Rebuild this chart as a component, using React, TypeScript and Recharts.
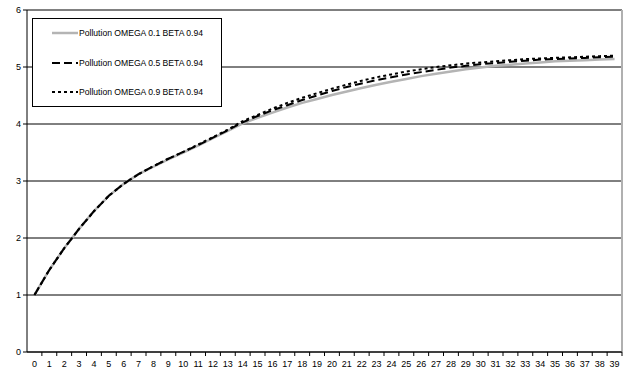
import React from "react";
import {
  LineChart,
  Line,
  XAxis,
  YAxis,
  CartesianGrid,
  ReferenceLine,
} from "recharts";

// periods shown on the x axis
const PERIODS = [
  0, 1, 2, 3, 4, 5, 6, 7, 8, 9, 10, 11, 12, 13, 14, 15, 16, 17, 18, 19,
  20, 21, 22, 23, 24, 25, 26, 27, 28, 29, 30, 31, 32, 33, 34, 35, 36, 37, 38, 39,
];
const Y_TICKS = [0, 1, 2, 3, 4, 5, 6];

const OMEGA_01 = [
  1.0, 1.44, 1.82, 2.16, 2.47, 2.74, 2.95, 3.12, 3.25, 3.38,
  3.5, 3.62, 3.75, 3.88, 4.01, 4.11, 4.2, 4.29, 4.37, 4.44,
  4.51, 4.57, 4.63, 4.69, 4.74, 4.79, 4.84, 4.88, 4.92, 4.96,
  4.99, 5.02, 5.04, 5.06, 5.08, 5.1, 5.11, 5.12, 5.13, 5.14,
];
const OMEGA_05 = [
  1.0, 1.44, 1.82, 2.16, 2.47, 2.74, 2.95, 3.12, 3.26, 3.39,
  3.51, 3.63, 3.76, 3.89, 4.03, 4.14, 4.24, 4.33, 4.42, 4.5,
  4.58, 4.65, 4.71, 4.77, 4.82, 4.87, 4.91, 4.95, 4.99, 5.02,
  5.05, 5.07, 5.09, 5.11, 5.13, 5.14, 5.15, 5.16, 5.17, 5.18,
];
const OMEGA_09 = [
  1.0, 1.44, 1.82, 2.16, 2.47, 2.74, 2.95, 3.12, 3.26, 3.39,
  3.51, 3.64, 3.77, 3.9, 4.05, 4.16, 4.27, 4.37, 4.46, 4.54,
  4.62, 4.69, 4.76, 4.82, 4.87, 4.92, 4.96, 5.0, 5.03, 5.06,
  5.08, 5.1, 5.12, 5.14, 5.15, 5.16, 5.17, 5.18, 5.19, 5.2,
];

const SERIES = [
  { key: "o1", name: "Pollution OMEGA 0.1 BETA 0.94", color: "#b4b4b4", width: 2.5, dash: undefined },
  { key: "o5", name: "Pollution OMEGA 0.5 BETA 0.94", color: "#000000", width: 2, dash: "8 4" },
  { key: "o9", name: "Pollution OMEGA 0.9 BETA 0.94", color: "#000000", width: 2, dash: "3 3" },
];

const data = PERIODS.map((t, i) => ({
  t,
  o1: OMEGA_01[i],
  o5: OMEGA_05[i],
  o9: OMEGA_09[i],
}));

const FONT = "'Liberation Sans', Arial, sans-serif";
const HALF_BAND = 595 / 40 / 2;

function XTick(props: any) {
  const { x, y, payload } = props;
  return (
    <g>
      <line x1={x + HALF_BAND} y1={y} x2={x + HALF_BAND} y2={y + 4} stroke="#000" />
      <text x={x} y={y + 15} textAnchor="middle" fontSize={9} fontFamily={FONT} fill="#000">
        {payload.value}
      </text>
    </g>
  );
}

function LegendBox() {
  return (
    <div
      style={{
        position: "absolute",
        left: 32,
        top: 18,
        width: 190,
        height: 89,
        border: "1px solid #000",
        background: "#fff",
        fontFamily: FONT,
        fontSize: 8.6,
        boxSizing: "border-box",
      }}
    >
      {SERIES.map((s, i) => (
        <div
          key={s.key}
          style={{ position: "absolute", left: 19, top: 8 + i * 29.5, display: "flex", alignItems: "center", height: 12 }}
        >
          <svg width={26} height={6}>
            <line x1={0} y1={3} x2={26} y2={3} stroke={s.color} strokeWidth={s.width} strokeDasharray={s.dash} />
          </svg>
          <span style={{ marginLeft: 1, whiteSpace: "nowrap" }}>{s.name}</span>
        </div>
      ))}
    </div>
  );
}

export default function App() {
  return (
    <div style={{ position: "absolute", left: 0, top: 0, width: 635, height: 372, background: "#fff" }}>
      <LineChart width={635} height={372} data={data} margin={{ top: 10, right: 13, left: 0, bottom: 0 }}>
        <CartesianGrid vertical={false} stroke="#000" horizontalValues={Y_TICKS} />
        <XAxis
          dataKey="t"
          type="number"
          domain={[-0.5, 39.5]}
          ticks={PERIODS}
          interval={0}
          height={20}
          tickSize={0}
          tickMargin={0}
          tickLine={false}
          axisLine={{ stroke: "#000" }}
          tick={<XTick />}
        />
        <YAxis
          type="number"
          domain={[0, 6]}
          ticks={Y_TICKS}
          interval={0}
          width={27}
          tickSize={4}
          tickMargin={2}
          axisLine={{ stroke: "#000" }}
          tickLine={{ stroke: "#000" }}
          tick={{ fontSize: 9, fill: "#000", fontFamily: FONT }}
        />
        <ReferenceLine x={39.5} stroke="#b0b0b0" strokeWidth={2} />
        {SERIES.map((s) => (
          <Line
            key={s.key}
            dataKey={s.key}
            name={s.name}
            stroke={s.color}
            strokeWidth={s.width}
            strokeDasharray={s.dash}
            dot={false}
            activeDot={false}
            type="linear"
            isAnimationActive={false}
          />
        ))}
      </LineChart>
      <LegendBox />
    </div>
  );
}
